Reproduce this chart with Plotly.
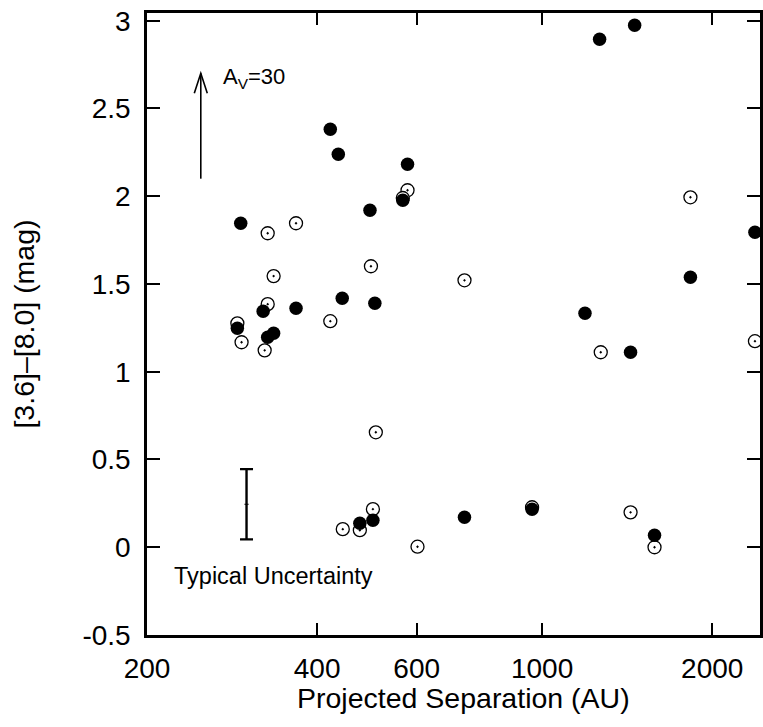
import math
import plotly.graph_objects as go

# ---- data ----
filled_sep = [293, 422, 436, 578, 496, 567, 289, 321, 327, 335, 367, 443, 506,
              1191, 1434, 1830, 2380, 1264, 1458, 476, 502, 729, 960, 1581]
filled_col = [1.846, 2.382, 2.239, 2.182, 1.920, 1.977, 1.248, 1.345, 1.197, 1.219,
              1.362, 1.419, 1.390, 1.333, 1.111, 1.538, 1.795, 2.895, 2.974,
              0.137, 0.154, 0.171, 0.217, 0.068]

open_sep = [327, 367, 578, 567, 335, 498, 327, 289, 294, 323, 422, 729, 1830,
            1270, 2380, 508, 444, 476, 502, 602, 960, 1434, 1581]
open_col = [1.789, 1.846, 2.034, 1.99, 1.545, 1.601, 1.385, 1.276, 1.168, 1.122,
            1.288, 1.521, 1.994, 1.111, 1.174, 0.655, 0.103, 0.097, 0.217, 0.003,
            0.228, 0.199, 0.0]

x_tickvals = [200, 400, 600, 1000, 2000]
x_ticktext = ["200", "400", "600", "1000", "2000"]
y_tickvals = [-0.5, 0, 0.5, 1, 1.5, 2, 2.5, 3]
y_ticktext = ["-0.5", "0", "0.5", "1", "1.5", "2", "2.5", "3"]

# typical uncertainty bar
unc_x = [300]
unc_y = [0.245]
unc_err = [0.2]

# extinction vector A_V = 30
av_x = 249
av_y0 = 2.10
av_y1 = 2.70

FONT = "Liberation Sans, Arial, sans-serif"

fig = go.Figure()

fig.add_trace(go.Scatter(
    x=open_sep, y=open_col, mode="markers",
    marker=dict(symbol="circle-dot", size=13, color="white",
                line=dict(color="black", width=1.3)),
    showlegend=False, hoverinfo="skip"))

fig.add_trace(go.Scatter(
    x=filled_sep, y=filled_col, mode="markers",
    marker=dict(symbol="circle", size=13.5, color="black",
                line=dict(color="black", width=0)),
    showlegend=False, hoverinfo="skip"))

fig.add_trace(go.Scatter(
    x=unc_x, y=unc_y, mode="markers",
    marker=dict(symbol="line-ew", size=3, color="black",
                line=dict(color="black", width=1)),
    error_y=dict(type="data", array=unc_err, visible=True,
                 color="black", thickness=2.4, width=6.5),
    showlegend=False, hoverinfo="skip"))

# arrow shaft
fig.add_shape(type="line", xref="x", yref="y",
              x0=av_x, x1=av_x, y0=av_y0, y1=av_y1,
              line=dict(color="black", width=1.6))
# arrow head (open V) in pixel units anchored at tip
fig.add_shape(type="path", xref="x", yref="y",
              xsizemode="pixel", ysizemode="pixel",
              xanchor=av_x, yanchor=av_y1,
              path="M-6.5,-20 L0,0 L6.5,-20",
              line=dict(color="black", width=1.6))

fig.add_annotation(x=math.log10(av_x), y=av_y1, xref="x", yref="y",
                   text="A<sub>V</sub>=30", showarrow=False,
                   xanchor="left", yanchor="middle", xshift=20, yshift=-5,
                   font=dict(family=FONT, size=22, color="black"))

fig.add_annotation(x=math.log10(221), y=-0.165, xref="x", yref="y",
                   text="Typical Uncertainty", showarrow=False,
                   xanchor="left", yanchor="middle",
                   font=dict(family=FONT, size=23.5, color="black"))

# x-axis title (reference is centred slightly right of the visible plot centre)
fig.add_annotation(x=(465 - 147) / 616, y=(635 - 698) / 622, xref="paper", yref="paper",
                   text="Projected Separation (AU)", showarrow=False,
                   xanchor="center", yanchor="middle",
                   font=dict(family=FONT, size=28.5, color="black"))

fig.update_xaxes(type="log", range=[math.log10(200), math.log10(200) + 616 / 568],
                 tickvals=x_tickvals, ticktext=x_ticktext,
                 ticks="inside", ticklen=12, tickwidth=2, tickcolor="black",
                 showline=True, linewidth=2.5, linecolor="black", mirror="ticks",
                 showgrid=False, zeroline=False,
                 ticklabelstandoff=7,
                 tickfont=dict(family=FONT, size=28, color="black"))

fig.update_yaxes(range=[-0.5, 3.044],
                 tickvals=y_tickvals, ticktext=y_ticktext,
                 ticks="inside", ticklen=13, tickwidth=2, tickcolor="black",
                 showline=True, linewidth=2.5, linecolor="black", mirror="ticks",
                 showgrid=False, zeroline=False,
                 ticklabelstandoff=8,
                 tickfont=dict(family=FONT, size=28, color="black"),
                 title=dict(text="[3.6]–[8.0] (mag)",
                            font=dict(family=FONT, size=28.5, color="black"),
                            standoff=40))

fig.update_layout(width=763, height=727,
                  margin=dict(l=147, r=0, t=13, b=92),
                  paper_bgcolor="white", plot_bgcolor="white")

fig.write_html("out.html")
